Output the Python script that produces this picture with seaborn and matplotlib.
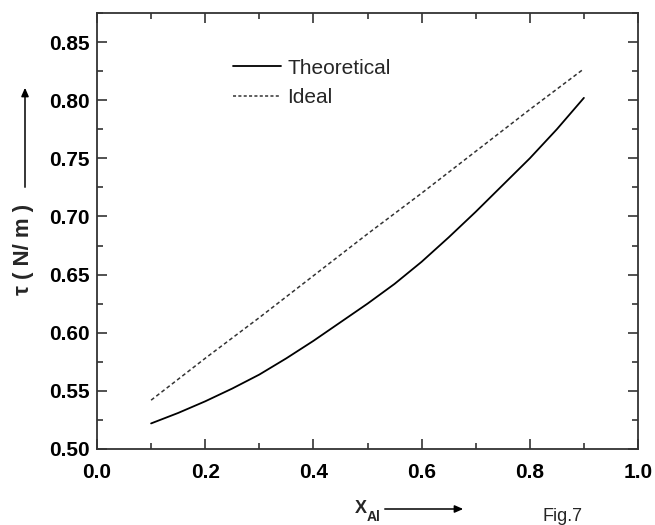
import matplotlib
matplotlib.use("Agg")
import matplotlib.pyplot as plt
import seaborn as sns
import pandas as pd
from matplotlib.ticker import MultipleLocator

x_theo = [0.10, 0.15, 0.20, 0.25, 0.30, 0.35, 0.40, 0.45, 0.50,
          0.55, 0.60, 0.65, 0.70, 0.75, 0.80, 0.85, 0.90]
theoretical = [0.522, 0.531, 0.541, 0.552, 0.564, 0.578, 0.593, 0.609, 0.625,
               0.642, 0.661, 0.682, 0.704, 0.727, 0.750, 0.775, 0.802]
x_ideal = [0.1, 0.2, 0.3, 0.4, 0.5, 0.6, 0.7, 0.8, 0.9]
ideal = [0.542, 0.578, 0.613, 0.649, 0.685, 0.720, 0.756, 0.792, 0.827]
series_names = ["Theoretical", "Ideal"]
x_ticklabels = ["0.0", "0.2", "0.4", "0.6", "0.8", "1.0"]
y_ticks = [0.50, 0.55, 0.60, 0.65, 0.70, 0.75, 0.80, 0.85]

sns.set_theme(style="ticks")
plt.rcParams['font.family'] = ['Liberation Sans', 'DejaVu Sans']

df = pd.DataFrame({
    "x": x_theo + x_ideal,
    "tau": theoretical + ideal,
    "series": [series_names[0]] * len(x_theo) + [series_names[1]] * len(x_ideal),
})

W, H = 655, 525
fig = plt.figure(figsize=(W / 100, H / 100), dpi=100)
ax = fig.add_axes([97 / W, 1 - 449 / H, (638 - 97) / W, (449 - 13) / H])

sns.lineplot(data=df[df.series == "Theoretical"], x="x", y="tau", ax=ax,
             color="black", lw=1.3, label="Theoretical")
sns.lineplot(data=df[df.series == "Ideal"], x="x", y="tau", ax=ax,
             color="#333333", lw=1.1, label="Ideal")
ax.lines[-1].set_linestyle((0, (2.5, 1.8)))

ax.set_xlim(0.0, 1.0)
ax.set_ylim(0.50, 0.875)
ax.set_xticks([float(t) for t in x_ticklabels])
ax.set_xticklabels(x_ticklabels)
ax.xaxis.set_minor_locator(MultipleLocator(0.1))
ax.set_yticks(y_ticks)
ax.set_yticklabels([f"{v:.2f}" for v in y_ticks])
ax.yaxis.set_minor_locator(MultipleLocator(0.025))
ax.tick_params(which="both", direction="in", top=True, right=True,
               colors="#222222", width=1.1, labelcolor="black")
ax.tick_params(which="major", length=7, labelsize=15)
ax.tick_params(axis="x", which="major", pad=10)
ax.tick_params(axis="y", which="major", pad=5)
ax.tick_params(which="minor", length=4)
for lab in ax.get_xticklabels() + ax.get_yticklabels():
    lab.set_fontweight("bold")
for s in ax.spines.values():
    s.set_linewidth(1.3)
    s.set_color("#333333")
ax.set_xlabel("")
ax.set_ylabel("")

leg = ax.legend(loc="center left", bbox_to_anchor=(223 / W, 1 - 83 / H),
                bbox_transform=fig.transFigure, frameon=False, fontsize=15,
                handlelength=2.3, handletextpad=0.3, borderpad=0,
                labelspacing=0.5)
leg.get_lines()[1].set_linestyle((0, (2.0, 1.5)))

# y label with arrow
fig.text(23 / W, 1 - 249 / H, "τ ( N/ m )", rotation=90, ha="center", va="center",
         fontsize=16, fontweight="bold")
fig.add_artist(matplotlib.patches.FancyArrowPatch(
    (25 / W, 1 - 190 / H), (25 / W, 1 - 85 / H), transform=fig.transFigure,
    arrowstyle="-|>,head_length=5,head_width=2.2", lw=1.1, color="black"))

# x label with arrow
fig.text(355 / W, 1 - 513 / H, "X", ha="left", va="baseline",
         fontsize=13, fontweight="bold")
fig.text(367 / W, 1 - 521 / H, "Al", ha="left", va="baseline",
         fontsize=10, fontweight="bold")
fig.add_artist(matplotlib.patches.FancyArrowPatch(
    (382 / W, 1 - 509 / H), (466 / W, 1 - 509 / H), transform=fig.transFigure,
    arrowstyle="-|>,head_length=5,head_width=2.2", lw=1.1, color="black"))

fig.text(543 / W, 1 - 521 / H, "Fig.7", ha="left", va="baseline", fontsize=13)

fig.savefig("out.png", dpi=100)
